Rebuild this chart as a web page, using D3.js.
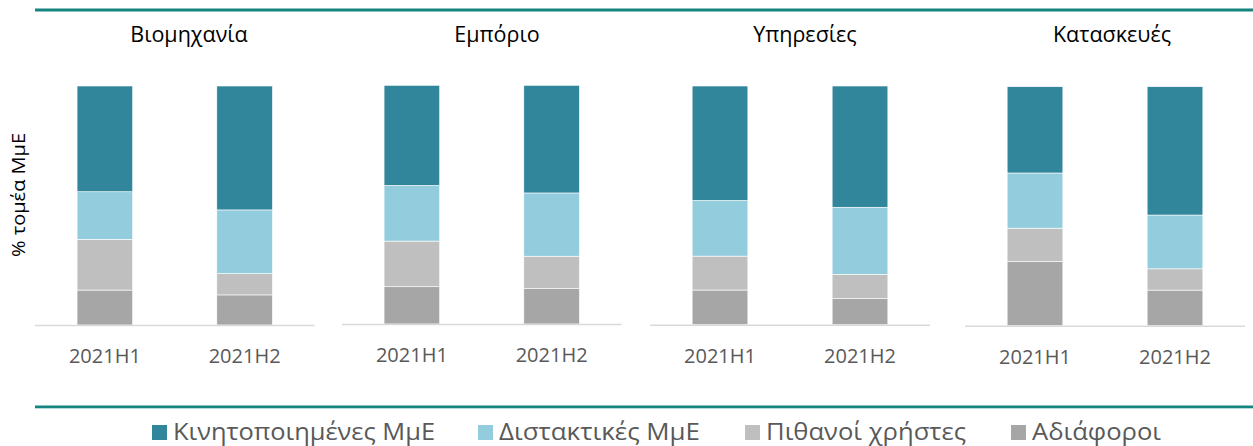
<!DOCTYPE html>
<html>
<head>
<meta charset="utf-8">
<script src="https://cdn.jsdelivr.net/npm/d3@7"></script>
<style>
  html, body { margin: 0; padding: 0; background: #fff; }
  svg { display: block; }
</style>
</head>
<body>
<svg id="chart" width="1253" height="446"></svg>
<script>
// ---- data ----
const sectors = ["Βιομηχανία", "Εμπόριο", "Υπηρεσίες", "Κατασκευές"];
const periods = ["2021H1", "2021H2"];
const seriesNames = ["Κινητοποιημένες ΜμΕ", "Διστακτικές ΜμΕ", "Πιθανοί χρήστες", "Αδιάφοροι"];
// values per sector x period: [Βιομ H1, Βιομ H2, Εμπ H1, Εμπ H2, Υπηρ H1, Υπηρ H2, Κατ H1, Κατ H2]
const kinitopoiimenes = [44.2, 51.9, 41.9, 45.1, 47.9, 50.8, 36.1, 53.7];
const distaktikes     = [19.9, 26.7, 23.3, 26.5, 23.3, 28.1, 23.1, 22.5];
const pithanoi        = [21.2,  8.9, 19.1, 13.6, 14.2, 10.2, 14.0,  8.9];
const adiaforoi       = [14.6, 12.6, 15.6, 14.8, 14.5, 10.9, 26.8, 14.9];
const yAxisLabel = "% τομέα ΜμΕ";

// ---- styles ----
const colors = {
  "Κινητοποιημένες ΜμΕ": "#31869b",
  "Διστακτικές ΜμΕ": "#93cddd",
  "Πιθανοί χρήστες": "#bfbfbf",
  "Αδιάφοροι": "#a6a6a6"
};
const lineColor = "#16847f";

const svg = d3.select("#chart");

// frame lines
svg.append("rect").attr("x", 35).attr("y", 8.5).attr("width", 1218).attr("height", 3).attr("fill", lineColor);
svg.append("rect").attr("x", 35).attr("y", 405.5).attr("width", 1218).attr("height", 2.8).attr("fill", lineColor);

// build rows
const seriesArrays = [kinitopoiimenes, distaktikes, pithanoi, adiaforoi];
const rows = [];
sectors.forEach((s, si) => {
  periods.forEach((p, pi) => {
    const idx = si * periods.length + pi;
    const r = { sector: s, period: p };
    seriesNames.forEach((n, ni) => { r[n] = seriesArrays[ni][idx]; });
    rows.push(r);
  });
});

// stack bottom -> top
const stackKeys = seriesNames.slice().reverse();
const stack = d3.stack().keys(stackKeys).offset(d3.stackOffsetExpand);

const panels = [
  { x0: 35,  x1: 314.5, base: 325,   top: 86,   titleX: 189 },
  { x0: 342, x1: 621.5, base: 324,   top: 85.3, titleX: 497 },
  { x0: 650, x1: 930,   base: 324.7, top: 86,   titleX: 805 },
  { x0: 965, x1: 1245,  base: 325.7, top: 86.7, titleX: 1112 }
];

sectors.forEach((s, si) => {
  const pan = panels[si];
  const data = rows.filter(r => r.sector === s);
  const stacked = stack(data);
  const x = d3.scaleBand().domain(periods).range([pan.x0, pan.x1]).paddingInner(0.602).paddingOuter(0.301);
  const y = d3.scaleLinear().domain([0, 1]).range([pan.base, pan.top]);
  const g = svg.append("g");

  g.selectAll("g.layer").data(stacked).join("g")
    .attr("class", "layer")
    .attr("fill", d => colors[d.key])
    .selectAll("rect").data(d => d).join("rect")
      .attr("x", d => x(d.data.period))
      .attr("width", x.bandwidth())
      .attr("y", d => y(d[1]))
      .attr("height", d => y(d[0]) - y(d[1]))
      .attr("stroke", "#ffffff")
      .attr("stroke-width", 0.6);

  // x axis
  const ax = g.append("g").attr("transform", `translate(0,${pan.base})`)
    .call(d3.axisBottom(x).tickSize(0).tickPadding(24));
  ax.select(".domain").attr("stroke", "#d9d9d9").attr("stroke-width", 1.6)
    .attr("d", `M${pan.x0},0.5H${pan.x1}`);
  ax.selectAll("text")
    .attr("font-family", "'Open Sans', sans-serif")
    .attr("font-size", 20)
    .attr("fill", "#595959")
    .attr("dy", "0.71em");

  // title
  svg.append("text").attr("x", pan.titleX).attr("y", 42)
    .attr("text-anchor", "middle")
    .attr("font-family", "'Open Sans', sans-serif")
    .attr("font-size", 21.5)
    .attr("fill", "#000")
    .text(s);
});

// y label
svg.append("text")
  .attr("transform", "translate(25,195) rotate(-90)")
  .attr("text-anchor", "middle")
  .attr("font-family", "'Open Sans', sans-serif")
  .attr("font-size", 18.5)
  .attr("fill", "#000")
  .attr("textLength", 124)
  .attr("lengthAdjust", "spacingAndGlyphs")
  .text(yAxisLabel);

// legend
const legendX = [152, 478, 745, 1011];
const legendW = [262, 201, 200, 129];
const lg = svg.append("g");
seriesNames.forEach((n, i) => {
  lg.append("rect").attr("x", legendX[i]).attr("y", 425).attr("width", 15).attr("height", 15).attr("fill", colors[n]);
  const t = lg.append("text").attr("x", legendX[i] + 21).attr("y", 440)
    .attr("font-family", "'Open Sans', sans-serif")
    .attr("font-size", 23)
    .attr("fill", "#595959")
    .text(n);
  const w = t.node().getComputedTextLength();
  if (Math.abs(w - legendW[i]) > 3) {
    t.attr("textLength", legendW[i]).attr("lengthAdjust", "spacingAndGlyphs");
  }
});
</script>
</body>
</html>
